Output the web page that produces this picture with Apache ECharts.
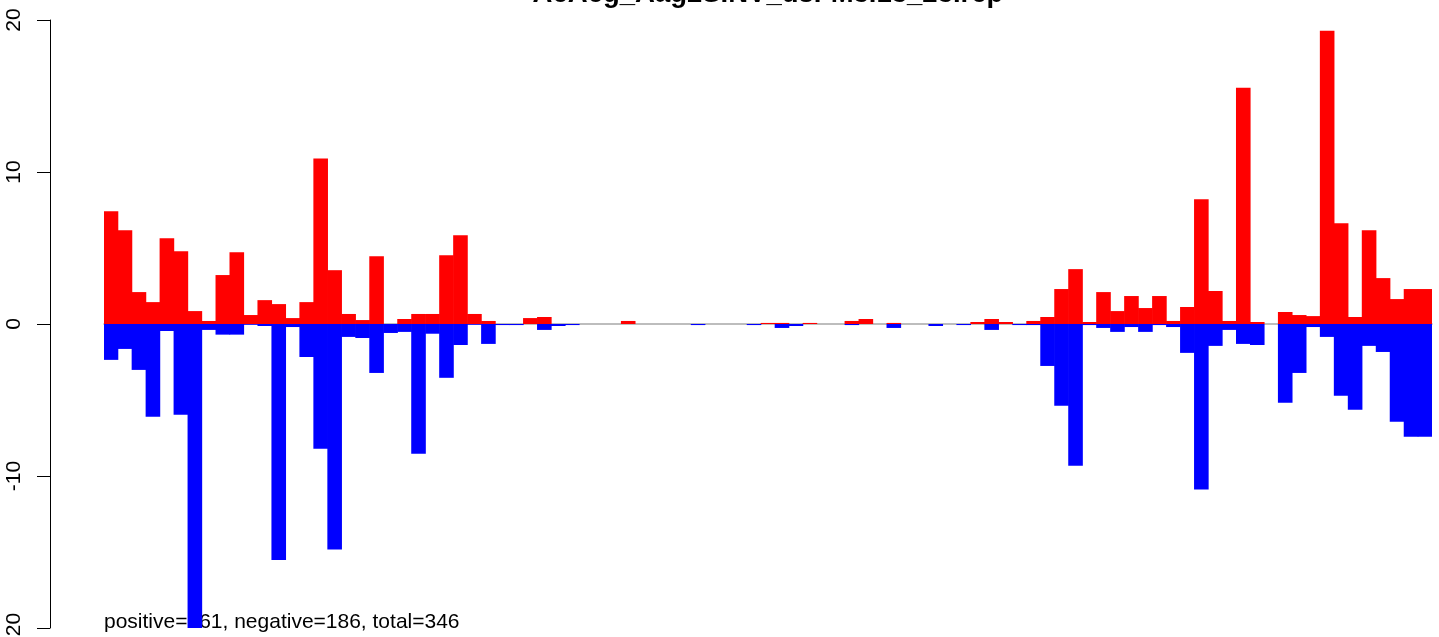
<!DOCTYPE html>
<html>
<head>
<meta charset="utf-8">
<script src="https://cdn.jsdelivr.net/npm/echarts@6/dist/echarts.min.js"></script>
<style>
html,body{margin:0;padding:0;background:#fff;overflow:hidden;}
#chart{width:1439px;height:637px;}
</style>
</head>
<body>
<div id="chart"></div>
<script>
var chartTitle = "AeAeg_Aag2SINV_dsFM3.13_23.rep";
var footText = "positive=161, negative=186, total=346";
var yTicks = [-20, -10, 0, 10, 20];
var yTickLabels = ["-20", "-10", "0", "10", "20"];

var positiveValues = [
  7.41, 6.17, 2.10, 1.44, 5.64, 4.79, 0.85, 0.20, 3.22, 4.72,
  0.59, 1.57, 1.31, 0.39, 1.44, 10.89, 3.54, 0.66, 0.26, 4.46,
  0, 0.33, 0.66, 0.66, 4.53, 5.84, 0.66, 0.20, 0, 0,
  0.39, 0.46, 0, 0, 0, 0, 0, 0.20, 0, 0,
  0, 0, 0, 0, 0, 0, 0, 0.07, 0.07, 0,
  0.07, 0, 0, 0.20, 0.33, 0, 0.07, 0, 0, 0,
  0, 0, 0.13, 0.33, 0.13, 0, 0.20, 0.46, 2.30, 3.61,
  0.13, 2.10, 0.85, 1.84, 1.05, 1.84, 0.20, 1.12, 8.20, 2.17,
  0.20, 15.55, 0.13, 0, 0.79, 0.59, 0.52, 19.29, 6.63, 0.46,
  6.17, 3.02, 1.64, 2.30, 2.30
];
var negativeValues = [
  -2.36, -1.64, -3.02, -6.10, -0.46, -5.97, -20.0, -0.39, -0.70, -0.70,
  -0.05, -0.13, -15.53, -0.20, -2.17, -8.20, -14.83, -0.85, -0.92, -3.22,
  -0.59, -0.52, -8.53, -0.64, -3.54, -1.38, -0.05, -1.31, -0.07, -0.07,
  0, -0.39, -0.13, -0.07, 0, 0, 0, 0, 0, 0,
  0, 0, -0.07, 0, 0, 0, -0.07, 0, -0.26, -0.13,
  0, 0, 0, -0.07, 0, 0, -0.26, 0, 0, -0.13,
  0, -0.07, 0, -0.39, 0, -0.07, -0.07, -2.76, -5.38, -9.32,
  -0.07, -0.26, -0.52, -0.20, -0.52, -0.07, -0.20, -1.90, -10.89, -1.44,
  -0.39, -1.31, -1.38, 0, -5.18, -3.22, -0.20, -0.85, -4.72, -5.64,
  -1.44, -1.84, -6.43, -7.41, -7.41
];
var bins = positiveValues.map(function (v, i) { return String(i + 1); });

var chart = echarts.init(document.getElementById('chart'), null, {renderer: 'canvas', width: 1439, height: 637});
var fontFam = '"Liberation Sans", Arial, Helvetica, sans-serif';
chart.setOption({
  animation: false,
  backgroundColor: '#ffffff',
  title: {
    text: chartTitle,
    left: 763,
    textAlign: 'center',
    top: -25,
    textStyle: {fontFamily: fontFam, fontSize: 27.5, fontWeight: 'bold', color: '#000'}
  },
  grid: {left: 104, right: 7, top: 20, height: 608, containLabel: false, outerBoundsMode: 'none'},
  xAxis: {
    type: 'category',
    data: bins,
    boundaryGap: true,
    axisLine: {show: true, onZero: true, lineStyle: {color: '#a8a8a8', width: 1.5}},
    axisTick: {show: false},
    axisLabel: {show: false},
    splitLine: {show: false}
  },
  yAxis: {
    type: 'value',
    min: yTicks[0],
    max: yTicks[yTicks.length - 1],
    interval: 10,
    offset: 54,
    axisLine: {show: true, lineStyle: {color: '#000', width: 1}},
    axisTick: {show: true, length: 13, lineStyle: {color: '#000', width: 1}},
    axisLabel: {
      rotate: 90,
      margin: 25,
      fontSize: 21,
      fontFamily: fontFam,
      color: '#000',
      formatter: function (v) {
        var idx = yTicks.indexOf(v);
        return idx >= 0 ? yTickLabels[idx] : '';
      }
    },
    splitLine: {show: false}
  },
  graphic: [{
    type: 'text',
    left: 104,
    top: 612,
    z: 0,
    style: {text: footText, fontFamily: fontFam, fontSize: 21, fill: '#000'}
  }],
  series: [
    {
      name: 'positive',
      type: 'bar',
      data: positiveValues,
      barWidth: 14.6,
      barGap: '-100%',
      itemStyle: {color: '#ff0000'},
      z: 3
    },
    {
      name: 'negative',
      type: 'bar',
      data: negativeValues,
      barWidth: 14.6,
      barGap: '-100%',
      itemStyle: {color: '#0000ff'},
      z: 3
    }
  ]
});
</script>
</body>
</html>
